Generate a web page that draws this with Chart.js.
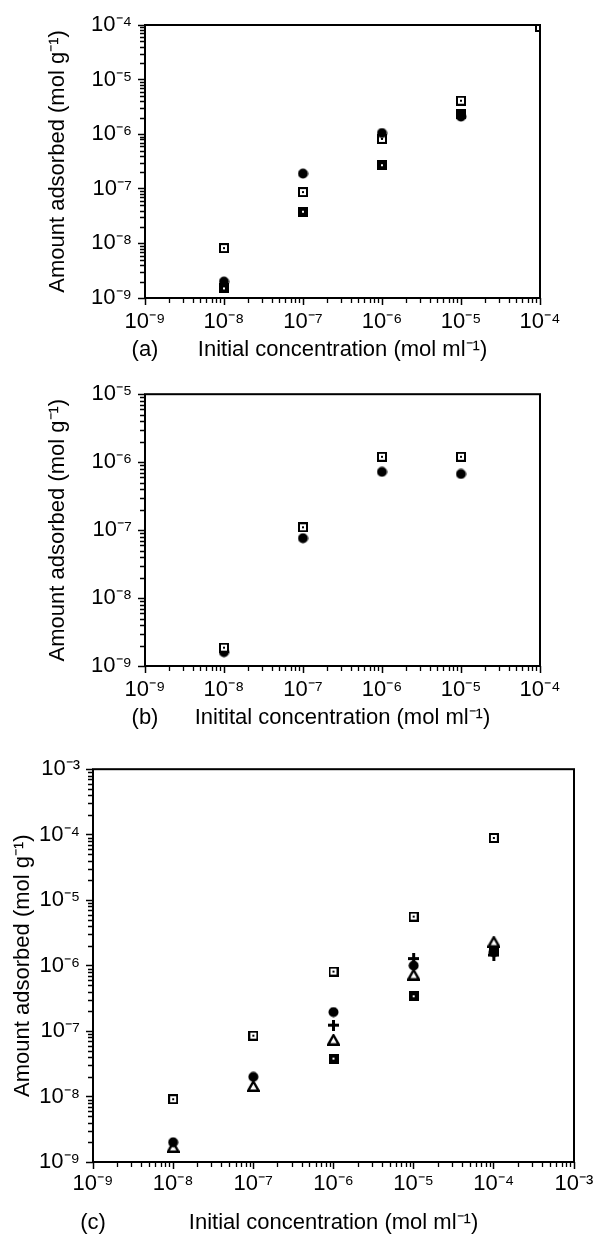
<!DOCTYPE html>
<html>
<head>
<meta charset="utf-8">
<script src="https://cdn.jsdelivr.net/npm/chart.js@4.4.1/dist/chart.umd.min.js"></script>
<style>
  html, body { margin: 0; padding: 0; background: #fff; }
  .panel { position: absolute; left: 0; width: 597px; }
</style>
</head>
<body>
<div class="panel" style="top:0;height:375px"><canvas id="chartA"></canvas></div>
<div class="panel" style="top:375px;height:375px"><canvas id="chartB"></canvas></div>
<div class="panel" style="top:750px;height:494px"><canvas id="chartC"></canvas></div>
<script>
// initial concentrations (mol/ml), shared by all three panels
var conc = [1e-8, 1e-7, 1e-6, 1e-5, 1e-4];

// panel (a) - amount adsorbed (mol/g)
var aOpenSq  = [8.2e-9, 8.7e-8, 8.2e-7, 4.1e-6, 9.2e-5];
var aSolidSq = [1.5e-9, 3.8e-8, 2.7e-7, 2.3e-6];
var aDot     = [2.0e-9, 1.9e-7, 1.05e-6, 2.1e-6];

// panel (b)
var bOpenSq = [1.86e-9, 1.1e-7, 1.2e-6, 1.2e-6];
var bDot    = [1.6e-9, 7.6e-8, 7.2e-7, 6.7e-7];

// panel (c)
var cOpenSq  = [9.1e-9, 8.5e-8, 8.1e-7, 5.6e-6, 8.9e-5];
var cDot     = [2.0e-9, 2.0e-8, 1.95e-7, 1.0e-6, 1.6e-6];
var cPlus    = [null, null, 1.23e-7, 1.28e-6, 1.45e-6];
var cTri     = [1.7e-9, 1.45e-8, 7.4e-8, 7.3e-7, 2.32e-6];
var cSolidSq = [null, null, 3.8e-8, 3.4e-7, 1.76e-6];

// tick values and labels
var ticksA = [1e-9, 1e-8, 1e-7, 1e-6, 1e-5, 1e-4];
var labelsA = ['10⁻⁹', '10⁻⁸', '10⁻⁷', '10⁻⁶', '10⁻⁵', '10⁻⁴'];
var ticksBy = [1e-9, 1e-8, 1e-7, 1e-6, 1e-5];
var labelsBy = ['10⁻⁹', '10⁻⁸', '10⁻⁷', '10⁻⁶', '10⁻⁵'];
var ticksC = [1e-9, 1e-8, 1e-7, 1e-6, 1e-5, 1e-4, 1e-3];
var labelsC = ['10⁻⁹', '10⁻⁸', '10⁻⁷', '10⁻⁶', '10⁻⁵', '10⁻⁴', '10⁻³'];

var yTitle = 'Amount adsorbed (mol g⁻¹)';
var xTitle = 'Initial concentration (mol ml⁻¹)';
var xTitleB = 'Initital concentration (mol ml⁻¹)';

Chart.defaults.font.family = "'Liberation Sans', Arial, sans-serif";
Chart.defaults.color = '#000';

// marker images
function marker(kind) {
  var c = document.createElement('canvas');
  var g;
  if (kind === 'openSq' || kind === 'solidSq') {
    c.width = c.height = 10;
    g = c.getContext('2d');
    g.fillStyle = '#000'; g.fillRect(0, 0, 10, 10);
    g.fillStyle = '#fff';
    if (kind === 'openSq') {
      g.fillRect(2, 2, 6, 6);
      g.fillStyle = '#000'; g.fillRect(4, 4, 2, 2);
    } else {
      g.fillRect(4, 4, 2, 2);
    }
  } else if (kind === 'dot') {
    c.width = c.height = 11;
    g = c.getContext('2d');
    g.fillStyle = '#000';
    g.beginPath(); g.arc(5.5, 5.5, 5, 0, Math.PI * 2); g.fill();
  } else if (kind === 'plus') {
    c.width = c.height = 11;
    g = c.getContext('2d');
    g.fillStyle = '#000';
    g.fillRect(0, 4, 11, 3); g.fillRect(4, 0, 3, 11);
  } else if (kind === 'tri') {
    c.width = 13; c.height = 12;
    g = c.getContext('2d');
    g.beginPath();
    g.moveTo(6.5, 1.5); g.lineTo(11.8, 10.8); g.lineTo(1.2, 10.8); g.closePath();
    g.fillStyle = '#fff'; g.fill();
    g.lineWidth = 2.4; g.strokeStyle = '#000'; g.stroke();
  }
  return c;
}

function pts(ys) {
  var out = [];
  ys.forEach(function(y, i) { if (y != null) out.push({ x: conc[i], y: y }); });
  return out;
}

function ds(ys, kind) {
  return { data: pts(ys), pointStyle: marker(kind), pointRadius: 5 };
}

function minorValues(scale) {
  var out = [];
  var lo = Math.round(Math.log10(scale.min)), hi = Math.round(Math.log10(scale.max));
  for (var e = lo; e < hi; e++) {
    for (var k = 2; k <= 9; k++) out.push(k * Math.pow(10, e));
  }
  return out;
}

// box, minor ticks and the panel letter
var frame = {
  id: 'frame',
  afterDraw: function(chart, args, opts) {
    var ctx = chart.ctx, a = chart.chartArea, sx = chart.scales.x, sy = chart.scales.y;
    ctx.save();
    ctx.strokeStyle = '#000';
    ctx.lineWidth = 2;
    ctx.strokeRect(a.left, a.top, a.right - a.left, a.bottom - a.top);
    ctx.lineWidth = 1.3;
    ctx.beginPath();
    minorValues(sx).forEach(function(v) {
      var px = Math.round(sx.getPixelForValue(v)) + 0.5;
      ctx.moveTo(px, a.bottom); ctx.lineTo(px, a.bottom + 5);
    });
    minorValues(sy).forEach(function(v) {
      var py = Math.round(sy.getPixelForValue(v)) + 0.5;
      ctx.moveTo(a.left, py); ctx.lineTo(a.left - 5, py);
    });
    ctx.stroke();
    ctx.font = "22px 'Liberation Sans', Arial, sans-serif";
    ctx.fillStyle = '#000';
    ctx.textAlign = 'center';
    ctx.textBaseline = 'middle';
    ctx.fillText(opts.text, a.left, opts.y);
    ctx.restore();
  }
};

function axis(pos, ticks, labels, title, size, titlePad, tickPad) {
  return {
    type: 'logarithmic',
    position: pos,
    min: ticks[0],
    max: ticks[ticks.length - 1],
    afterBuildTicks: function(s) { s.ticks = ticks.map(function(v) { return { value: v }; }); },
    afterFit: function(s) { if (pos === 'left') s.width = size; else s.height = size; },
    ticks: {
      autoSkip: false, maxRotation: 0, padding: tickPad,
      font: { size: 22 },
      callback: function(v, i) { return labels[i]; }
    },
    grid: { drawOnChartArea: false, drawTicks: true, tickLength: 7, tickWidth: 1.5, tickColor: '#000' },
    border: { display: false },
    title: { display: true, text: title, font: { size: 22 }, padding: titlePad }
  };
}

function makeChart(id, datasets, xAx, yAx, pad, tag) {
  return new Chart(document.getElementById(id), {
    type: 'scatter',
    data: { datasets: datasets },
    options: {
      responsive: true,
      maintainAspectRatio: false,
      animation: false,
      layout: { padding: pad },
      plugins: { legend: { display: false }, tooltip: { enabled: false }, frame: tag },
      scales: { x: xAx, y: yAx }
    },
    plugins: [frame]
  });
}

makeChart('chartA',
  [ds(aDot, 'dot'), ds(aOpenSq, 'openSq'), ds(aSolidSq, 'solidSq')],
  axis('bottom', ticksA, labelsA, xTitle, 77, { top: 0, bottom: 12 }, 4),
  axis('left', ticksA, labelsA, yTitle, 145, { top: 45, bottom: 0 }, 6),
  { top: 25, right: 57, left: 0, bottom: 0 },
  { text: '(a)', y: 350 });

makeChart('chartB',
  [ds(bOpenSq, 'openSq'), ds(bDot, 'dot')],
  axis('bottom', ticksA, labelsA, xTitleB, 84, { top: 0, bottom: 19 }, 4),
  axis('left', ticksBy, labelsBy, yTitle, 145, { top: 45, bottom: 0 }, 6),
  { top: 18, right: 57, left: 0, bottom: 0 },
  { text: '(b)', y: 343 });

makeChart('chartC',
  [ds(cPlus, 'plus'), ds(cDot, 'dot'), ds(cTri, 'tri'), ds(cSolidSq, 'solidSq'), ds(cOpenSq, 'openSq')],
  axis('bottom', ticksC, labelsC, xTitle, 82, { top: 0, bottom: 8 }, 2),
  axis('left', ticksC, labelsC, yTitle, 93, { top: 10, bottom: 0 }, 6),
  { top: 17, right: 23, left: 0, bottom: 0 },
  { text: '(c)', y: 473 });
</script>
</body>
</html>
